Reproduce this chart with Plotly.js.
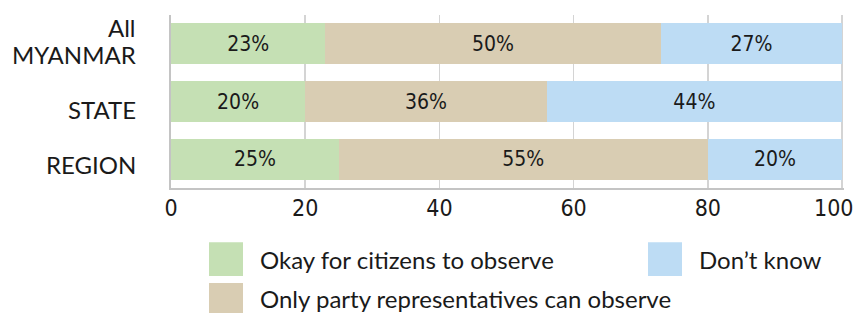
<!DOCTYPE html>
<html>
<head>
<meta charset="utf-8">
<script src="https://cdn.plot.ly/plotly-3.0.1.min.js"></script>
<style>html,body{margin:0;padding:0;background:#fff;}#chart{width:854px;height:313px;}</style>
</head>
<body>
<div id="chart"></div>
<script>
const categories = ["All MYANMAR", "STATE", "REGION"];
const categoryLabels = ["All<br>MYANMAR", "STATE", "REGION"];
const seriesNames = ["Okay for citizens to observe", "Only party representatives can observe", "Don’t know"];
const okayValues = [23, 20, 25];
const onlyPartyValues = [50, 36, 55];
const dontKnowValues = [27, 44, 20];
const seriesColors = ["#c5e0b4", "#d9cdb3", "#bddcf4"];
const xTickVals = [0, 20, 40, 60, 80, 100];
const xTickText = ["0", "20", "40", "60", "80", "100"];

const seriesValues = [okayValues, onlyPartyValues, dontKnowValues];
const numFont = {family: "DejaVu Sans Condensed", size: 21, color: "#1a1a1a"};
const tickFont = {family: "DejaVu Sans Condensed", size: 23, color: "#1a1a1a"};

const traces = seriesValues.map((vals, i) => ({
  type: "bar",
  orientation: "h",
  name: seriesNames[i],
  y: categories,
  x: vals,
  marker: {color: seriesColors[i]},
  text: vals.map(v => v + "%"),
  textposition: "inside",
  insidetextanchor: "middle",
  textfont: numFont,
  hoverinfo: "none",
  showlegend: false
}));

// plot area in pixels
const L = 171, R = 844, T = 14.5, B = 188.5;
const XMAX = 100.3;
const px = x => (x - L) / (R - L);
const py = y => (B - y) / (B - T);

const legendPos = [
  {sx: 209, sy: 243, tx: 258, ty: 260},
  {sx: 209, sy: 284, tx: 258, ty: 300},
  {sx: 648, sy: 243, tx: 697, ty: 260}
];
const shapes = legendPos.map((p, i) => ({
  type: "rect", xref: "paper", yref: "paper",
  x0: px(p.sx), x1: px(p.sx + 34), y0: py(p.sy), y1: py(p.sy + 34),
  fillcolor: seriesColors[i], line: {width: 0}
}));
const annotations = legendPos.map((p, i) => ({
  xref: "paper", yref: "paper", x: px(p.tx), y: py(p.ty),
  xanchor: "left", yanchor: "middle", showarrow: false,
  text: seriesNames[i],
  font: {family: "Lato", size: 24, color: "#1a1a1a"}
}));
// category labels (offset as in the reference)
const catShift = [3, -8.25, -5.75];
const lineGap = 27.5;
categories.forEach((c, i) => {
  const lines = categoryLabels[i].split("<br>");
  lines.forEach((ln, j) => {
    annotations.push({
      xref: "paper", yref: "y", x: px(138), y: c,
      xanchor: "right", yanchor: "middle", showarrow: false,
      yshift: catShift[i] - (j - (lines.length - 1) / 2) * lineGap,
      text: ln,
      font: {family: "Lato", size: 24, color: "#1a1a1a"}
    });
  });
});
// last tick label kept inside the picture, as in the reference
const lastTick = xTickVals.length - 1;
annotations.push({
  xref: "x", yref: "paper", x: xTickVals[lastTick], y: 0,
  xanchor: "center", yanchor: "middle", xshift: -8, yshift: -20,
  showarrow: false, text: xTickText[lastTick], font: tickFont
});
const axisTickText = xTickText.map((t, i) => i === lastTick ? "" : t);

const layout = {
  width: 854, height: 313,
  margin: {l: L, r: 854 - R, t: T, b: 313 - B},
  barmode: "stack",
  bargap: 0.293,
  paper_bgcolor: "#fff", plot_bgcolor: "#fff",
  showlegend: false,
  xaxis: {
    range: [0, XMAX], tickvals: xTickVals, ticktext: axisTickText, ticks: "",
    ticklabelstandoff: -2,
    showgrid: true, gridcolor: "#d4d4d4", gridwidth: 1.5,
    showline: true, linecolor: "#c4c4c4", linewidth: 2,
    zeroline: false,
    tickfont: tickFont
  },
  yaxis: {
    autorange: "reversed", ticks: "",
    showline: true, linecolor: "#c4c4c4", linewidth: 2,
    showgrid: false, zeroline: false,
    showticklabels: false
  },
  shapes: shapes,
  annotations: annotations
};

Plotly.newPlot("chart", traces, layout, {staticPlot: true, displayModeBar: false});
</script>
</body>
</html>
